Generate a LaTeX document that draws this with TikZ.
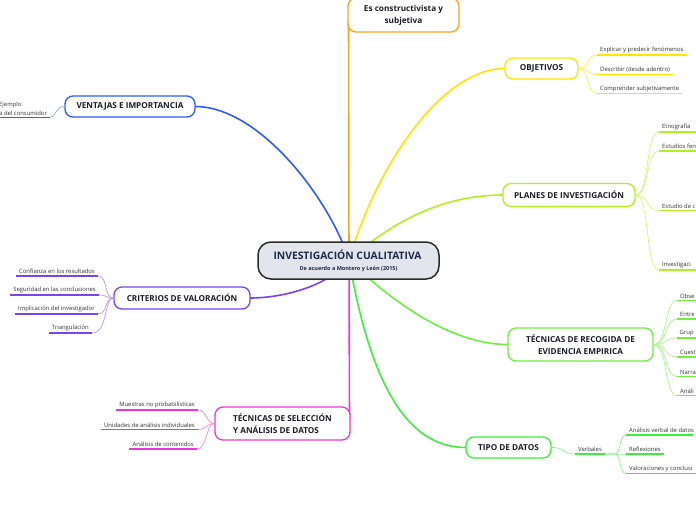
\documentclass[tikz,border=0pt]{standalone}
\usepackage{fontspec}
\setmainfont{Open Sans}
\definecolor{orangeC}{HTML}{F7A51C}
\definecolor{yellowC}{HTML}{FFE600}
\definecolor{limeC}{HTML}{B2F01E}
\definecolor{greenC}{HTML}{6EF03C}
\definecolor{greenD}{HTML}{3AEE3A}
\definecolor{magC}{HTML}{EE33DD}
\definecolor{purpC}{HTML}{7744EE}
\definecolor{blueC}{HTML}{2E5BFF}
\definecolor{txt}{HTML}{1C1C28}
\definecolor{leaftxt}{HTML}{333333}
\definecolor{cfill}{HTML}{E2E5EC}
\definecolor{cdraw}{HTML}{2A2A2A}
\definecolor{ctxt}{HTML}{1E2A4A}
\tikzset{
  topic/.style={draw, rounded corners=8pt, fill=white, line width=1.3pt,
    font=\bfseries\fontsize{8.2}{12}\selectfont, text=txt, inner sep=0pt},
  leaf/.style={font=\fontsize{5.9}{8}\selectfont, text=leaftxt, inner xsep=3pt, inner ysep=1.8pt},
  ul/.style={line width=1.4pt},
  twig/.style={line width=0.7pt},
  branch/.style={line width=1.6pt},
}
\begin{document}
\begin{tikzpicture}[x=1pt,y=-1pt]
\useasboundingbox (0,0) rectangle (696,520);
\coordinate (cc) at (349,260);
% main branches
\draw[branch,orangeC] (cc) -- (348.5,20);
\draw[branch,yellowC] (cc) .. controls (375,170) and (440,68.5) .. (505,68.5);
\draw[branch,limeC] (cc) .. controls (400,215) and (450,195) .. (503,195);
\draw[branch,greenC] (cc) .. controls (390,300) and (450,344.5) .. (508,344.5);
\draw[branch,greenD] (cc) .. controls (370,380) and (405,447.5) .. (466,447.5);
\draw[branch,magC] (cc) -- (349.5,420);
\draw[branch,purpC] (cc) .. controls (330,285) and (285,298) .. (250,298);
\draw[branch,blueC] (cc) .. controls (330,200) and (260,106.5) .. (195,106.5);
% central
\node[draw=cdraw, fill=cfill, line width=1.5pt, rounded corners=13pt, minimum width=181pt, minimum height=37pt, inner sep=0pt] (c) at (348.5,260.5) {};
\node[font=\bfseries\fontsize{10.3}{11}\selectfont, text=ctxt] (ct) at (347.5,254.5) {INVESTIGACIÓN CUALITATIVA};
\node[font=\bfseries\fontsize{5.5}{6}\selectfont, text=ctxt] (cs) at (348.5,269) {De acuerdo a Montero y León (2015)};
% topics
\node[topic, draw=orangeC, minimum width=111pt, minimum height=34pt, align=center] (es) at (403.5,15) {Es constructivista y\\subjetiva};
\node[topic, draw=yellowC, minimum width=73pt, minimum height=21pt] (obj) at (541.5,68.5) {OBJETIVOS};
\node[topic, draw=limeC, minimum width=132pt, minimum height=23pt] (pla) at (569,195) {PLANES DE INVESTIGACIÓN};
\node[topic, draw=greenC, minimum width=145pt, minimum height=33pt, align=center] (rec) at (580.5,344.5) {TÉCNICAS DE RECOGIDA DE\\EVIDENCIA EMPIRICA};
\node[topic, draw=greenD, minimum width=85pt, minimum height=21pt] (tip) at (508.5,447.5) {TIPO DE DATOS};
\node[topic, draw=magC, minimum height=33pt, minimum width=135pt, align=left] (sel) at (282.5,423.5) {TÉCNICAS DE SELECCIÓN\\Y ANÁLISIS DE DATOS};
\node[topic, draw=purpC, minimum width=136pt, minimum height=22pt] (cri) at (182,298) {CRITERIOS DE VALORACIÓN};
\node[topic, draw=blueC, minimum width=130pt, minimum height=21pt] (ven) at (130,106.5) {VENTAJAS E IMPORTANCIA};
% OBJETIVOS leaves
\node[leaf, anchor=south west] (o1) at (597,55) {Explicar y predecir fenómenos};
\node[leaf, anchor=south west] (o2) at (597,74.5) {Describir (desde adentro)};
\node[leaf, anchor=south west] (o3) at (597,93.5) {Comprender subjetivamente};
\foreach \n in {o1,o2,o3}{
  \draw[twig,yellowC!70!white] (obj.east) .. controls (590,68.5) and (586,0 |- \n.south west) .. (\n.south west);
  \draw[ul,yellowC] (\n.south west) -- (\n.south east);
}
% PLANES leaves
\node[leaf, anchor=south west] (p1) at (659,132) {Etnografía};
\node[leaf, anchor=south west] (p2) at (659,151) {Estudios fen};
\node[leaf, anchor=south west] (p3) at (659,210.5) {Estudio de c};
\node[leaf, anchor=south west] (p4) at (659,270) {Investigaci};
\foreach \n in {p1,p2,p3,p4}{
  \draw[twig,limeC!60!white] (pla.east) .. controls (650,195) and (645,0 |- \n.south west) .. (\n.south west);
  \draw[ul,limeC] (\n.south west) -- ++(60,0);
}
% RECOGIDA leaves
\node[leaf, anchor=south west] (r1) at (677,300.5) {Obse};
\node[leaf, anchor=south west] (r2) at (677,319) {Entre};
\node[leaf, anchor=south west] (r3) at (676.5,338) {Grup};
\node[leaf, anchor=south west] (r4) at (677,357) {Cuesti};
\node[leaf, anchor=south west] (r5) at (677,376.5) {Narra};
\node[leaf, anchor=south west] (r6) at (677,395.5) {Análi};
\foreach \n in {r1,r2,r3,r4,r5,r6}{
  \draw[twig,greenC!60!white] (rec.east) .. controls (668,344.5) and (664,0 |- \n.south west) .. (\n.south west);
  \draw[ul,greenC] (\n.south west) -- ++(40,0);
}
% TIPO leaves
\node[leaf, anchor=south west] (vb) at (575,454) {Verbales};
\draw[twig,greenD!60!white] (tip.east) .. controls (566,447.5) and (562,454) .. (vb.south west);
\draw[ul,greenD] (vb.south west) -- (vb.south east);
\coordinate (vbx) at (615,454);
\draw[line width=1.2pt,greenD!40!white] (vb.south east) -- (vbx);
\node[leaf, anchor=south west] (t1) at (626,435) {Análisis verbal de datos};
\node[leaf, anchor=south west] (t2) at (626,454) {Reflexiones};
\node[leaf, anchor=south west] (t3) at (626,473.5) {Valoraciones y conclusi};
\foreach \n in {t1,t2,t3}{
  \draw[twig,greenD!60!white] (vbx) .. controls (621,454) and (619,0 |- \n.south west) .. (\n.south west);
}
\draw[ul,greenD] (t1.south west) -- (693,435);
\draw[ul,greenD] (t2.south west) -- (t2.south east);
\draw[ul,greenD] (t3.south west) -- ++(80,0);
% SELECCION leaves
\node[leaf, anchor=south east] (s1) at (198,410) {Muestras no probabilísticas};
\node[leaf, anchor=south east] (s2) at (198,429.5) {Unidades de análisis individuales};
\node[leaf, anchor=south east] (s3) at (197,449) {Análisis de contenidos};
\foreach \n in {s1,s2,s3}{
  \draw[twig,magC!60!white] (sel.west) .. controls (206,423.5) and (207,0 |- \n.south east) .. (\n.south east);
  \draw[ul,magC] (\n.south west) -- (\n.south east);
}
% CRITERIOS leaves
\node[leaf, anchor=south east] (k1) at (98,276) {Confianza en los resultados};
\node[leaf, anchor=south east] (k2) at (99,295) {Seguridad en las conclusiones};
\node[leaf, anchor=south east] (k3) at (98,314) {Implicación del investigador};
\node[leaf, anchor=south east] (k4) at (92,333) {Triangulación};
\foreach \n in {k1,k2,k3,k4}{
  \draw[twig,purpC!55!white] (cri.west) .. controls (104,298) and (108,0 |- \n.south east) .. (\n.south east);
  \draw[ul,purpC] (\n.south west) -- (\n.south east);
}
% VENTAJAS leaf
\node[leaf, anchor=south west, align=left, font=\fontsize{5.9}{8.5}\selectfont] (v1) at (-4,117.5) {Ejemplo\\a del consumidor};
\draw[twig,blueC!55!white] (ven.west) .. controls (55,106.5) and (56,117.5) .. (v1.south east);
\draw[ul,blueC] (v1.south west) -- (v1.south east);
\end{tikzpicture}
\end{document}
